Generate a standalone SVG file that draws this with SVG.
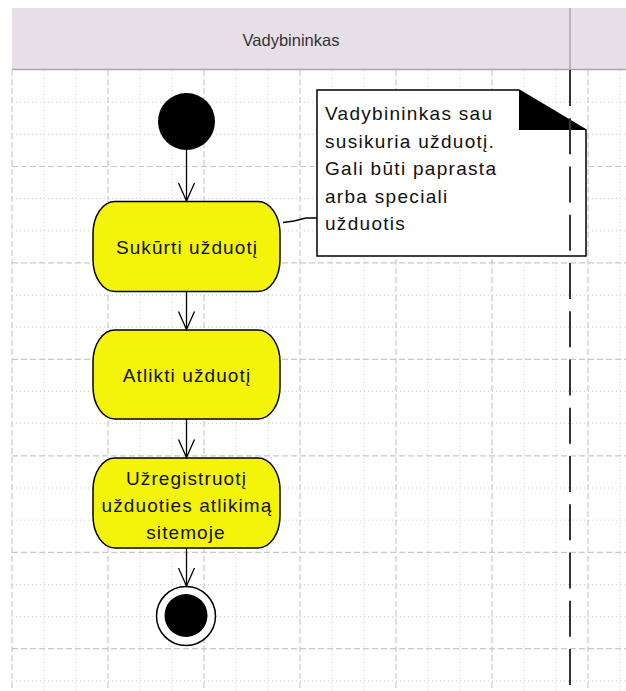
<svg xmlns="http://www.w3.org/2000/svg" width="626" height="691" viewBox="0 0 626 691">
<defs>
<style>
.minor{stroke:#c8c8c8;stroke-width:1;stroke-dasharray:1 3;fill:none}
.major{stroke:#c8c8c8;stroke-width:1.2;stroke-dasharray:6 3;fill:none}
.act{fill:#F4F40A;stroke:#000;stroke-width:1.5}
.lbl{font-family:"Liberation Sans",Arial,sans-serif;font-size:19px;letter-spacing:1.1px;fill:#111;text-anchor:middle}
.note{font-family:"Liberation Sans",Arial,sans-serif;font-size:19px;letter-spacing:1.3px;fill:#111}
.flow{stroke:#000;stroke-width:1.3;fill:none}
</style>
<marker id="arr" markerUnits="userSpaceOnUse" markerWidth="22" markerHeight="22" refX="19" refY="10" orient="auto">
<path d="M1,2 L19,10 L1,18" fill="none" stroke="#000" stroke-width="1.3"/>
</marker>
</defs>
<rect width="626" height="691" fill="#fff"/>
<g id="grid">
<path class="minor" d="M44,70V691M76,70V691M140,70V691M172,70V691M236,70V691M268,70V691M332,70V691M364,70V691M428,70V691M460,70V691M524,70V691M556,70V691M620,70V691"/>
<path class="major" d="M12,70V691M108,70V691M204,70V691M300,70V691M396,70V691M492,70V691M588,70V691"/>
<path class="minor" d="M12,102.2H626M12,134.3H626M12,198.6H626M12,230.8H626M12,295.1H626M12,327.2H626M12,391.5H626M12,423.7H626M12,488H626M12,520.1H626M12,584.4H626M12,616.6H626M12,680.9H626"/>
<path class="major" d="M12,166.5H626M12,262.9H626M12,359.4H626M12,455.8H626M12,552.3H626M12,648.7H626"/>
</g>
<g id="lane">
<rect x="12" y="8" width="614" height="61" fill="#E7DFE8"/>
<line x1="12" y1="69.5" x2="626" y2="69.5" stroke="#a8a8a8" stroke-width="1.5"/>
<line x1="570" y1="8" x2="570" y2="69" stroke="#999" stroke-width="1.2"/>
<text x="291" y="46" font-family="'Liberation Sans',Arial,sans-serif" font-size="16.5" fill="#333" text-anchor="middle">Vadybininkas</text>
</g>
<g id="note">
<path d="M317,90 L519,90 L586,130 L586,256 L317,256 Z" fill="#fff" stroke="#000" stroke-width="1.5"/>
<path d="M519,90 L586,130 L519,130 Z" fill="#000"/>
<text class="note" x="325" y="120">Vadybininkas sau</text>
<text class="note" x="325" y="147.5">susikuria užduotį.</text>
<text class="note" x="325" y="175">Gali būti paprasta</text>
<text class="note" x="325" y="202.5">arba speciali</text>
<text class="note" x="325" y="230">užduotis</text>
</g>
<g id="lifeline">
<line x1="570" y1="70" x2="570" y2="691" stroke="#333" stroke-width="2" stroke-dasharray="36 12.25"/>
</g>
<g id="start">
<circle cx="186.5" cy="121.5" r="28.5" fill="#000"/>
</g>
<g id="a1">
<rect class="act" x="93" y="201.5" width="187" height="90" rx="22" ry="32"/>
<text class="lbl" x="187" y="253.5">Sukūrti užduotį</text>
</g>
<g id="a2">
<rect class="act" x="93" y="330" width="187" height="89" rx="22" ry="32"/>
<text class="lbl" x="187" y="381.5">Atlikti užduotį</text>
</g>
<g id="a3">
<rect class="act" x="93" y="458" width="187" height="90" rx="22" ry="32"/>
<text class="lbl" x="186.5" y="485">Užregistruotį</text>
<text class="lbl" x="187" y="512">užduoties atlikimą</text>
<text class="lbl" x="186" y="539">sitemoje</text>
</g>
<g id="end">
<circle cx="186" cy="616" r="29.5" fill="#fff" stroke="#000" stroke-width="1.5"/>
<circle cx="186" cy="615.5" r="21.5" fill="#000"/>
</g>
<g id="connectors">
<line class="flow" x1="186.5" y1="150" x2="186.5" y2="201" marker-end="url(#arr)"/>
<line class="flow" x1="186.5" y1="292" x2="186.5" y2="329.5" marker-end="url(#arr)"/>
<line class="flow" x1="186.5" y1="419" x2="186.5" y2="457.5" marker-end="url(#arr)"/>
<line class="flow" x1="186.5" y1="548" x2="186.5" y2="586" marker-end="url(#arr)"/>
<polyline class="flow" points="283,222.5 294,221 306,218 317,218"/>
</g>
</svg>
